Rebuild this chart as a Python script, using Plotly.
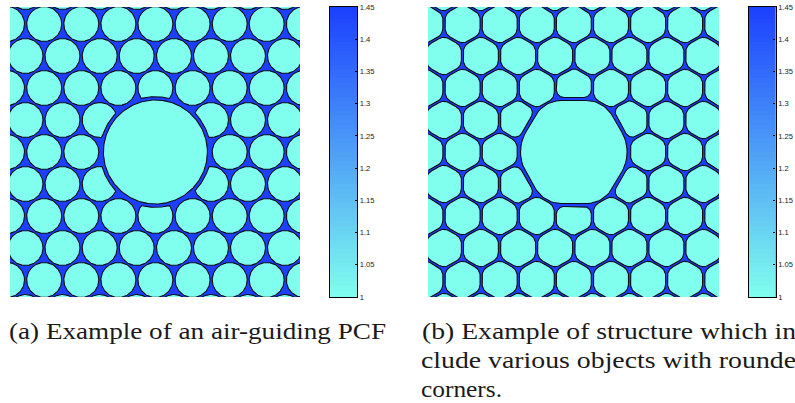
import json
import numpy as np
import plotly.graph_objects as go

W, H = 795, 403
# lattice (panel units, y downward)
row_y = [-15, 17, 49, 81, 113, 145, 177, 209, 241, 273, 305]
row_type = ["B", "A", "B", "A", "B", "A", "B", "A", "B", "A", "B"]
cols_a = [-3, 34.2, 71.3, 108.4, 145.4, 182.6, 219.7, 256.7, 293.9]
cols_b = [15.5, 52.5, 89.7, 126.7, 164, 201, 238, 275, 312]
core_center = (145.4, 145)
hole_radius = 17.5
core_radius = 52
ring_radius = 55.3
hex_apothem = 17.5
hex_corner = 10
core_apothem = 51.5
core_corners = [40, 30, 30, 40, 30, 30]
clip_distance = 54.5
levels = [1, 1.05, 1.1, 1.15, 1.2, 1.25, 1.3, 1.35, 1.4, 1.45]
level_labels = ["1", "1.05", "1.1", "1.15", "1.2", "1.25", "1.3", "1.35", "1.4", "1.45"]
index_low, index_high = 1, 1.45
caption_lines = ["(a) Example of an air-guiding PCF", "(b) Example of structure which in",
                 "clude various objects with rounde", "corners."]
caption_x = [7, 420, 419, 419]
caption_y = [330.5, 330.5, 360, 389]
caption_w = [377, 374, 375, 81]

AQUA = "#80FFEE"
BLUE = "#1C40FF"
INK = "#0c0c14"

cells = [(x, y) for y, t in zip(row_y, row_type) for x in (cols_a if t == "A" else cols_b)]
c = np.array(core_center)


def circle_cell(center):
    a = np.linspace(0, 2 * np.pi, 121)
    p = np.c_[center[0] + hole_radius * np.cos(a), center[1] + hole_radius * np.sin(a)]
    d = p - c
    r = np.hypot(d[:, 0], d[:, 1])
    inside = r < ring_radius
    p[inside] = c + d[inside] / r[inside][:, None] * ring_radius
    return p


def clip(poly, n, dist):
    out = []
    m = len(poly)
    for i in range(m):
        a, b = poly[i], poly[(i + 1) % m]
        da, db = (a - c) @ n - dist, (b - c) @ n - dist
        if da >= 0:
            out.append(a)
        if da * db < 0:
            out.append(a + (b - a) * da / (da - db))
    return np.array(out)


def rounded(poly, radii):
    pts = []
    m = len(poly)
    if np.isscalar(radii):
        radii = [radii] * m
    for i in range(m):
        p, v, q = poly[i - 1], poly[i], poly[(i + 1) % m]
        e1, e2 = p - v, q - v
        l1, l2 = np.hypot(*e1), np.hypot(*e2)
        u1, u2 = e1 / l1, e2 / l2
        ang = np.arccos(np.clip(u1 @ u2, -1, 1))
        t = min(radii[i] / np.tan(ang / 2), 0.48 * l1, 0.48 * l2)
        r = t * np.tan(ang / 2)
        bis = (u1 + u2) / np.hypot(*(u1 + u2))
        o = v + bis * r / np.sin(ang / 2)
        a, b = v + u1 * t - o, v + u2 * t - o
        a0 = np.arctan2(a[1], a[0])
        da = (np.arctan2(b[1], b[0]) - a0 + np.pi) % (2 * np.pi) - np.pi
        for s in np.linspace(0, 1, 13):
            pts.append(o + r * np.array([np.cos(a0 + s * da), np.sin(a0 + s * da)]))
    pts.append(pts[0])
    return np.array(pts)


def hexagon(center, apothem, start):
    R = apothem / np.cos(np.pi / 6)
    a = np.deg2rad(start + 60 * np.arange(6))
    return np.c_[center[0] + R * np.cos(a), center[1] + R * np.sin(a)]


def hex_cell(center):
    d = np.array(center) - c
    dist = np.hypot(*d)
    h = hexagon(center, hex_apothem, 30)
    if dist < 66:
        return rounded(clip(h, d / dist, clip_distance), 8)
    return rounded(h, hex_corner)


def join(polys):
    xs, ys = [], []
    for p in polys:
        xs += list(p[:, 0]) + [None]
        ys += list(p[:, 1]) + [None]
    return xs, ys


def keep(center):
    return np.hypot(center[0] - c[0], center[1] - c[1]) > 45


a_polys = [circle_cell(p) for p in cells if keep(p)]
t = np.linspace(0, 2 * np.pi, 241)
a_polys.append(np.c_[c[0] + core_radius * np.cos(t), c[1] + core_radius * np.sin(t)])
b_polys = [hex_cell(p) for p in cells if keep(p)]
b_polys.append(rounded(hexagon(core_center, core_apothem, 0), core_corners))

fig = go.Figure()
for polys, xa, ya in ((a_polys, "x", "y"), (b_polys, "x2", "y2")):
    xs, ys = join(polys)
    fig.add_trace(go.Scatter(x=xs, y=ys, xaxis=xa, yaxis=ya, mode="lines", fill="toself",
                             fillcolor=AQUA, line=dict(color=INK, width=1.1),
                             hoverinfo="skip", showlegend=False))

scale_z = list(np.linspace(index_low, index_high, 64))
for xa, ya in (("x3", "y3"), ("x4", "y4")):
    fig.add_trace(go.Heatmap(z=[[v] for v in scale_z], y=scale_z, x=[0], xaxis=xa, yaxis=ya,
                             zmin=index_low, zmax=index_high, showscale=False,
                             colorscale=[[0, AQUA], [1, BLUE]], hoverinfo="skip"))


def dom(a, b, total):
    return [a / total, b / total]


ydom = [1 - 297 / H, 1 - 7 / H]
plain = dict(visible=False, showgrid=False, zeroline=False, automargin=False)
bar_x = dict(showticklabels=False, ticks="", showline=True, mirror=True, linecolor="black",
             linewidth=1.3, showgrid=False, zeroline=False, range=[-0.5, 0.5], automargin=False)
bar_y = dict(side="right", range=[index_low, index_high], tickmode="array", tickvals=levels,
             ticktext=level_labels, ticks="inside", ticklen=2, tickwidth=1, tickcolor="black",
             showline=True, mirror=True, linecolor="black", linewidth=1.3, showgrid=False,
             zeroline=False, automargin=False,
             tickfont=dict(family="Liberation Sans", size=7.6, color="#222222"))

annotations = []
for text, x0, y0 in zip(caption_lines, caption_x, caption_y):
    annotations.append(dict(text=text, x=x0 / W, y=1 - y0 / H, xref="paper", yref="paper",
                            xanchor="left", yanchor="middle", align="left", showarrow=False,
                            font=dict(family="Liberation Serif", size=24, color="#1a1a1a")))

fig.update_layout(
    width=W, height=H, autosize=False, margin=dict(l=0, r=0, t=0, b=0),
    paper_bgcolor="white", plot_bgcolor=BLUE, annotations=annotations,
    xaxis=dict(domain=dom(10, 300, W), range=[0, 290], **plain),
    yaxis=dict(domain=ydom, range=[290, 0], **plain),
    xaxis2=dict(domain=dom(428, 719, W), range=[-0.4, 290.6], **plain),
    yaxis2=dict(domain=ydom, range=[290, 0], **plain),
    xaxis3=dict(domain=dom(330, 357, W), anchor="y3", **bar_x),
    yaxis3=dict(domain=ydom, anchor="x3", **bar_y),
    xaxis4=dict(domain=dom(748.5, 775.5, W), anchor="y4", **bar_x),
    yaxis4=dict(domain=ydom, anchor="x4", **bar_y),
)
post = """
document.documentElement.style.margin='0';document.body.style.margin='0';
var widths=%s;
document.querySelectorAll('.annotation-text').forEach(function(t,i){
  t.setAttribute('textLength',widths[i]);t.setAttribute('lengthAdjust','spacingAndGlyphs');
});
""" % json.dumps(caption_w)
fig.write_html("out.html", post_script=post, config=dict(displayModeBar=False))
